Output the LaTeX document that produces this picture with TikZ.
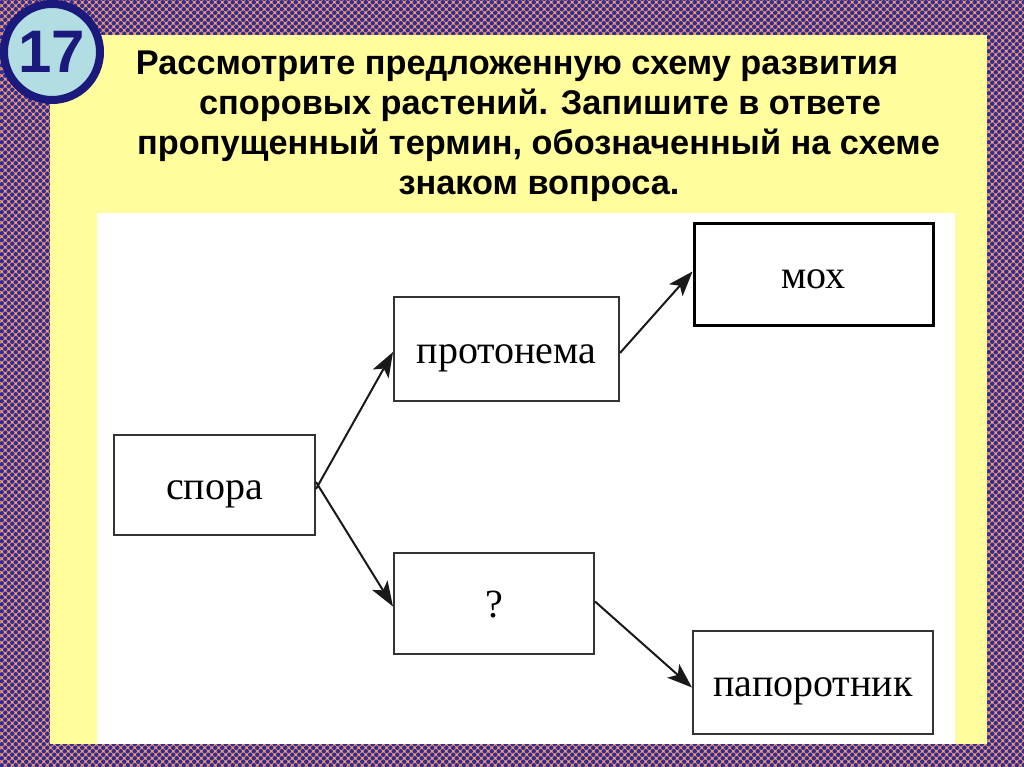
\documentclass[tikz,border=0pt]{standalone}
\usepackage{fontspec}
\setmainfont{Liberation Serif}
\newfontfamily\titlefont{Liberation Sans}
\usetikzlibrary{patterns,arrows.meta}
\pgfdeclarepatternformonly{bluedots}{\pgfqpoint{-0.5pt}{-0.5pt}}{\pgfqpoint{7.5pt}{7.5pt}}{\pgfqpoint{7pt}{7pt}}{%
  \pgfpathcircle{\pgfqpoint{1.75pt}{1.75pt}}{2.25pt}%
  \pgfpathcircle{\pgfqpoint{5.25pt}{5.25pt}}{2.25pt}%
  \pgfusepath{fill}}
\definecolor{bgorange}{HTML}{F7976A}
\definecolor{bgblue}{HTML}{2E2F96}
\definecolor{panelyellow}{HTML}{FFFD9C}
\definecolor{navy}{HTML}{1B1A7C}
\definecolor{circfill}{HTML}{B2DDE3}
\definecolor{boxline}{HTML}{333333}
\tikzset{
  box/.style={draw=boxline, line width=2pt, fill=white, inner sep=0pt,
    text height=28pt, text depth=0pt,
    font=\fontsize{40}{46}\selectfont},
  conn/.style={draw=black!90, line width=2pt,
    arrows={-Stealth[length=25pt,width=18pt,inset=6pt]}},
  titleline/.style={anchor=base, inner sep=0pt,
    font=\titlefont\bfseries\fontsize{34.3}{40}\selectfont}
}
\begin{document}
\begin{tikzpicture}[x=1pt,y=-1pt]
\useasboundingbox (0,0) rectangle (1024,767);
% background pattern
\fill[bgorange] (0,0) rectangle (1024,767);
\fill[pattern=bluedots, pattern color=bgblue] (0,0) rectangle (1024,767);
% panels
\fill[panelyellow] (50,35) rectangle (987,744);
\fill[white] (97,213) rectangle (955,744);
% number badge
\node[circle, draw=navy, line width=8pt, fill=circfill, minimum size=96pt, inner sep=0pt,
  font=\titlefont\bfseries\fontsize{60}{60}\selectfont, text=navy] (num) at (52,52) {17};
% title
\node[titleline] (t1) at (517,75) {Рассмотрите предложенную схему развития};
\node[titleline] (t2) at (540,115) {споровых растений. Запишите в ответе};
\node[titleline] (t3) at (538.5,155) {пропущенный термин, обозначенный на схеме};
\node[titleline] (t4) at (539,195) {знаком вопроса.};
% boxes
\node[box, minimum width=201pt, minimum height=100pt] (spora) at (214.5,485) {спора};
\node[box, minimum width=225pt, minimum height=104pt] (proto) at (506.5,349) {протонема};
\node[box, minimum width=200pt, minimum height=101pt] (q) at (494,603.5) {?};
\node[box, draw=black, line width=3pt, minimum width=239pt, minimum height=101pt] (moh) at (813.5,274.5) {мох};
\node[box, minimum width=240pt, minimum height=103pt] (pap) at (813,682.5) {папоротник};
% connectors
\draw[conn] ([yshift=-4pt]spora.east) -- ([yshift=-3pt]proto.west);
\draw[conn] ([yshift=3pt]spora.east) -- ([yshift=-3pt]q.west);
\draw[conn] ([yshift=-4pt]proto.east) -- ([yshift=3pt]moh.west);
\draw[conn] ([yshift=2pt]q.east) -- ([yshift=-5pt]pap.west);
\end{tikzpicture}
\end{document}
